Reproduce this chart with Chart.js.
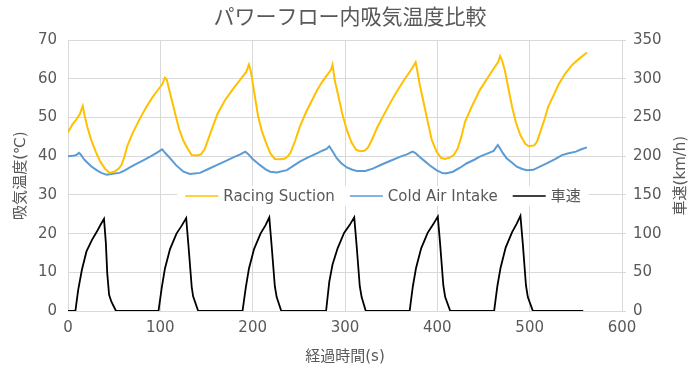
<!DOCTYPE html>
<html>
<head>
<meta charset="utf-8">
<script src="https://cdn.jsdelivr.net/npm/chart.js@4/dist/chart.umd.min.js"></script>
<style>
  body { margin: 0; background: #fff; }
</style>
</head>
<body>
<canvas id="chart" width="700" height="376"></canvas>
<script>
// Racing Suction 吸気温度 (℃)
const suctionTime = [0, 5, 9, 13, 16, 18, 21, 25, 30, 35, 40, 45, 50, 55, 58, 61, 64, 70, 78, 85, 92, 97, 102, 105, 107, 110, 115, 120, 125, 130, 134, 140, 144, 148, 152, 157, 162, 170, 179, 186, 193, 196, 198, 202, 206, 210, 214, 219, 224, 230, 235, 238, 241, 246, 251, 258, 265, 270, 276, 282, 285, 286.5, 289, 293, 297, 302, 307, 312, 316, 321, 325, 329, 335, 342, 349, 356, 364, 372, 376.5, 378, 381, 385, 390, 394, 399, 404, 408, 413, 418, 422, 426, 430, 438, 446, 455, 462, 466, 468, 470, 473, 477, 481, 485, 490, 495, 499, 505, 508, 511, 516, 520, 526, 531, 538, 546, 554, 562];
const suctionTemp = [46.2, 48.3, 49.5, 51.0, 53.0, 50.5, 47.5, 44.3, 41.2, 38.6, 36.8, 35.7, 36.0, 36.8, 37.8, 39.8, 42.5, 46.0, 49.8, 52.8, 55.4, 57.0, 58.6, 60.3, 59.8, 56.8, 52.0, 47.3, 44.0, 41.8, 40.3, 40.2, 40.5, 41.8, 44.5, 47.8, 51.0, 54.5, 57.5, 59.6, 61.8, 63.7, 62.0, 56.0, 50.2, 46.5, 43.8, 40.8, 39.3, 39.2, 39.4, 40.0, 40.9, 44.0, 47.6, 51.5, 54.8, 57.2, 59.5, 61.4, 62.5, 63.7, 59.5, 55.4, 51.0, 46.8, 43.6, 41.7, 41.3, 41.4, 42.3, 44.2, 47.5, 50.7, 53.8, 56.7, 59.7, 62.5, 64.3, 62.5, 58.5, 54.1, 48.5, 44.2, 41.3, 39.6, 39.3, 39.6, 40.4, 42.0, 45.0, 48.9, 53.2, 57.1, 60.5, 63.0, 64.4, 65.9, 64.8, 62.3, 57.5, 52.7, 48.8, 45.4, 43.3, 42.6, 42.8, 43.8, 45.9, 49.5, 52.8, 55.8, 58.4, 61.2, 63.6, 65.3, 66.8];

// Cold Air Intake 吸気温度 (℃)
const intakeTime = [0, 5, 9, 12, 14, 17, 20, 25, 31, 36, 42, 48, 56, 62, 67, 74, 82, 89, 96, 102, 104, 107, 110.5, 117, 125, 132, 143, 152, 161, 170, 179, 186, 192, 195, 200, 208, 214, 219, 226, 237, 244, 251, 260, 269, 276, 280, 283, 286, 291, 296, 302, 308, 313, 322, 330, 341, 350, 360, 367, 373, 376, 380, 385, 392, 399, 406, 410, 417, 425, 432, 440, 446, 454, 461, 465.5, 468, 471, 475, 481, 486, 492, 497, 504, 511, 519, 528, 535, 541, 550, 556, 562];
const intakeTemp = [40.0, 40.1, 40.3, 40.9, 40.4, 39.3, 38.6, 37.4, 36.4, 35.7, 35.2, 35.5, 35.7, 36.4, 37.1, 38.0, 39.0, 39.9, 40.9, 41.8, 41.2, 40.4, 39.5, 37.7, 36.0, 35.4, 35.7, 36.7, 37.7, 38.7, 39.7, 40.4, 41.2, 40.6, 39.3, 37.7, 36.6, 36.0, 35.8, 36.4, 37.5, 38.6, 39.7, 40.7, 41.5, 41.9, 42.6, 41.5, 39.5, 38.2, 37.1, 36.5, 36.2, 36.2, 36.8, 38.0, 38.9, 39.9, 40.5, 41.2, 40.9, 40.0, 39.0, 37.6, 36.4, 35.6, 35.6, 36.0, 37.1, 38.2, 39.1, 39.9, 40.7, 41.4, 42.9, 42.0, 40.8, 39.5, 38.3, 37.3, 36.7, 36.4, 36.5, 37.3, 38.2, 39.3, 40.3, 40.7, 41.2, 41.8, 42.3];

// 車速 (km/h)
const speedTime = [0, 8, 11, 15, 20, 26, 31, 36, 39, 41, 42.5, 44.5, 47, 52,
  98, 101.5, 105, 110.5, 117.5, 123, 128, 130.5, 134, 135.5, 141,
  189, 192.5, 196, 201.5, 208.5, 214, 218, 220.5, 224, 226, 231,
  279.5, 283, 286.5, 292, 299, 305, 310, 312.5, 316, 318, 322.5,
  370, 373.5, 377, 382.5, 389.5, 395.5, 400.5, 403, 406.5, 408.5, 414,
  461.5, 465, 468.5, 474, 481, 486, 490, 492.5, 496, 498, 503.5, 558];
const speedValue = [0, 0, 27, 53, 77, 92, 102, 113, 119, 88, 49, 21, 12, 0,
  0, 30, 55, 80, 100, 110, 120, 84, 31, 19, 0,
  0, 30, 55, 80, 100, 111, 121, 85, 32, 18, 0,
  0, 38, 60, 81, 101, 111, 121, 86, 32, 18, 0,
  0, 32, 56, 81, 101, 112, 122, 87, 33, 18, 0,
  0, 32, 56, 82, 102, 113, 123, 88, 33, 18, 0, 0];

const seriesNames = ['Racing Suction', 'Cold Air Intake', '車速'];
const xTicks = [0, 100, 200, 300, 400, 500, 600];

const FONT = '"DejaVu Sans", "Noto Sans CJK JP", sans-serif';
const TEXT = '#595959';
const GRID = '#d9d9d9';

const pts = (xs, ys) => xs.map((x, i) => ({ x: x, y: ys[i] }));

// legend sits inside the plot, on a white strip
const midLegend = {
  id: 'midLegend',
  afterDraw(chart) {
    const ctx = chart.ctx;
    const y = 196;
    ctx.save();
    ctx.font = '15px ' + FONT;
    const lineLen = 33, gap = 5, itemGap = 15;
    const items = chart.data.datasets.map(d => ({
      label: d.label, color: d.borderColor, w: ctx.measureText(d.label).width
    }));
    let total = 0;
    items.forEach((it, i) => { total += lineLen + gap + it.w + (i ? itemGap : 0); });
    let x = 383 - total / 2;
    ctx.fillStyle = '#fff';
    ctx.fillRect(x - 8, y - 10, total + 16, 20);
    ctx.textBaseline = 'middle';
    items.forEach(it => {
      ctx.strokeStyle = it.color;
      ctx.lineWidth = 1.5;
      ctx.beginPath();
      ctx.moveTo(x, y);
      ctx.lineTo(x + lineLen, y);
      ctx.stroke();
      x += lineLen + gap;
      ctx.fillStyle = TEXT;
      ctx.fillText(it.label, x, y + 1);
      x += it.w + itemGap;
    });

    // right axis title, reading bottom to top like the left one
    const a = chart.chartArea;
    ctx.font = '15px ' + FONT;
    ctx.textAlign = 'center';
    ctx.translate(681, (a.top + a.bottom) / 2);
    ctx.rotate(-Math.PI / 2);
    ctx.fillText('車速(km/h)', 0, 0);
    ctx.restore();
  }
};

new Chart(document.getElementById('chart'), {
  type: 'line',
  data: {
    datasets: [
      {
        label: seriesNames[0],
        data: pts(suctionTime, suctionTemp),
        borderColor: '#ffc000',
        borderWidth: 2,
        yAxisID: 'y'
      },
      {
        label: seriesNames[1],
        data: pts(intakeTime, intakeTemp),
        borderColor: '#5b9bd5',
        borderWidth: 2,
        yAxisID: 'y'
      },
      {
        label: seriesNames[2],
        data: pts(speedTime, speedValue),
        borderColor: '#000000',
        borderWidth: 1.8,
        yAxisID: 'y2'
      }
    ]
  },
  options: {
    responsive: false,
    animation: false,
    elements: { point: { radius: 0 }, line: { tension: 0 } },
    layout: { padding: 0 },
    plugins: {
      legend: { display: false },
      tooltip: { enabled: false },
      title: {
        display: true,
        text: 'パワーフロー内吸気温度比較',
        color: TEXT,
        font: { family: FONT, size: 21, weight: 'normal' },
        padding: { top: 6, bottom: 9 }
      }
    },
    scales: {
      x: {
        type: 'linear',
        min: 0,
        max: 600,
        afterBuildTicks: s => { s.ticks = xTicks.map(v => ({ value: v })); },
        afterFit: s => { s.height = 65; },
        grid: { color: GRID, drawTicks: false },
        border: { display: false },
        ticks: { color: TEXT, font: { family: FONT, size: 15 }, padding: 8, maxRotation: 0 },
        title: {
          display: true,
          text: '経過時間(s)',
          color: TEXT,
          font: { family: FONT, size: 15 },
          padding: { top: 0, bottom: 10 }
        }
      },
      y: {
        position: 'left',
        min: 0,
        max: 70,
        afterFit: s => { s.width = 68; },
        grid: { color: GRID, drawTicks: false },
        border: { display: false },
        ticks: { stepSize: 10, color: TEXT, font: { family: FONT, size: 15 }, padding: 11 },
        title: {
          display: true,
          text: '吸気温度(℃)',
          color: TEXT,
          font: { family: FONT, size: 15 },
          padding: { top: 12, bottom: 0 }
        }
      },
      y2: {
        position: 'right',
        min: 0,
        max: 350,
        afterFit: s => { s.width = 78; },
        grid: { drawOnChartArea: false, color: GRID, tickLength: 4 },
        border: { display: true, color: GRID },
        ticks: { stepSize: 50, color: TEXT, font: { family: FONT, size: 15 }, padding: 7 }
      }
    }
  },
  plugins: [midLegend]
});
</script>
</body>
</html>
